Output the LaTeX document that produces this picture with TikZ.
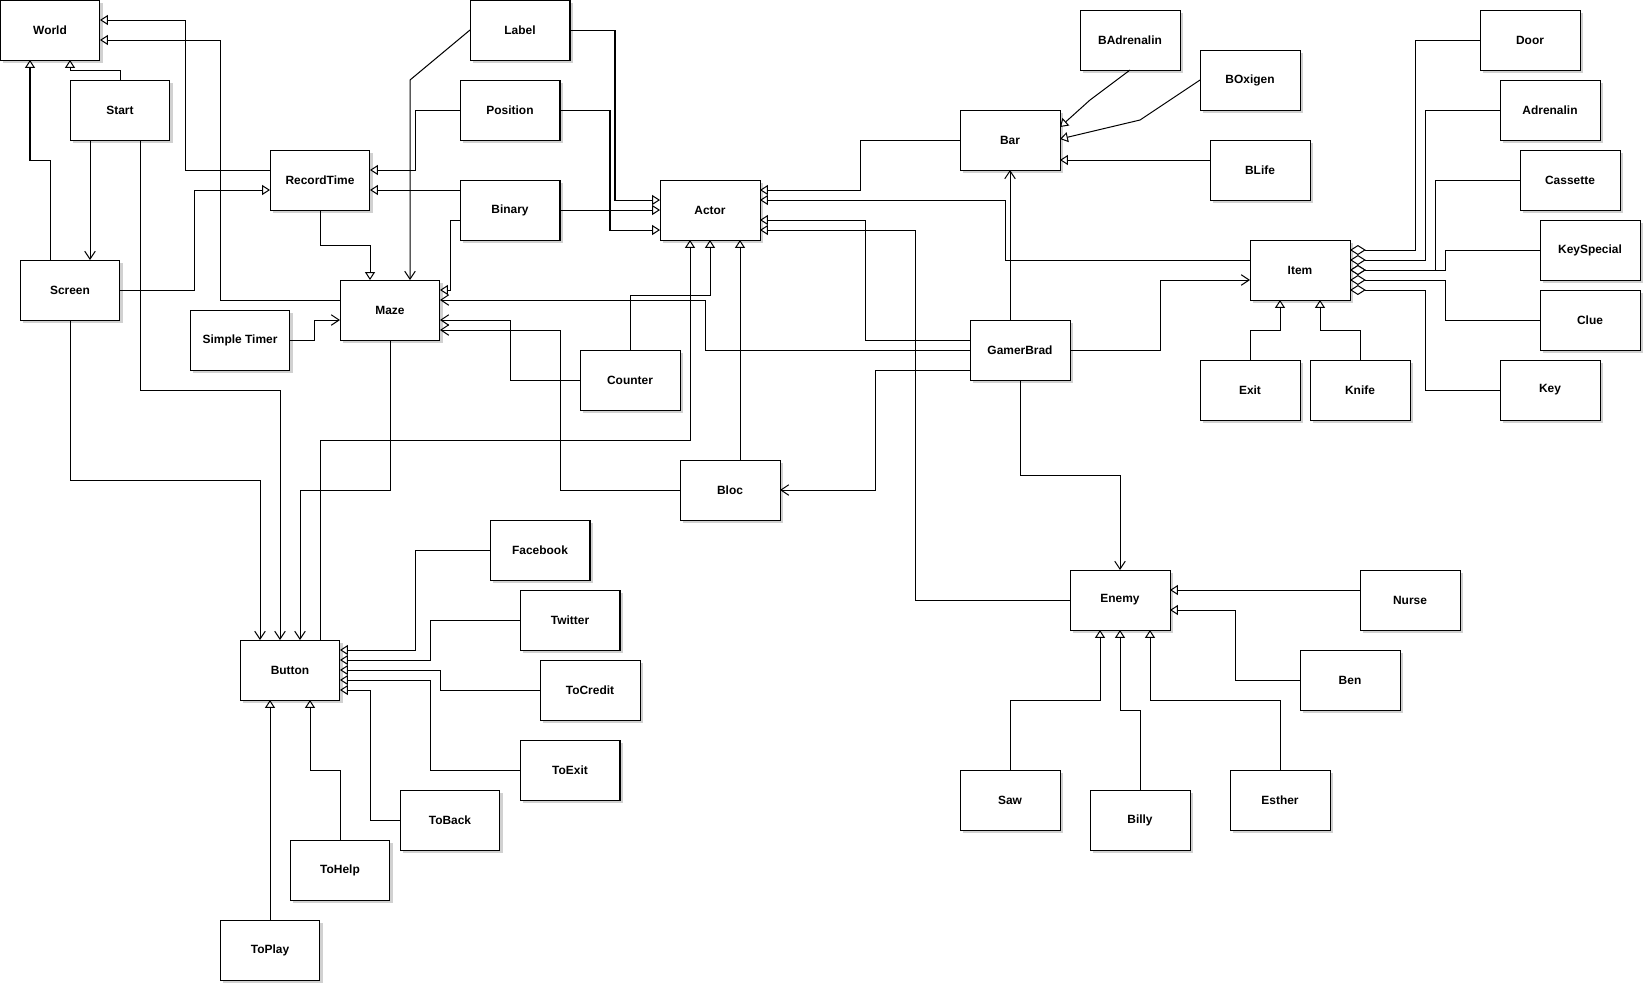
\documentclass[tikz,border=0pt]{standalone}
\usepackage{fontspec}
\setmainfont{Liberation Sans}
\usetikzlibrary{arrows.meta,calc,shadows}

\begin{document}
\begin{tikzpicture}[x=0.02cm,y=-0.02cm,line width=0.57pt,
  cls/.style={draw,fill=white,minimum width=2cm,minimum height=1.2cm,inner sep=0pt,outer sep=0pt,
    font=\bfseries\fontsize{6.8}{8}\selectfont,
    drop shadow={shadow xshift=1.7pt,shadow yshift=-1.7pt,opacity=1,fill=black!18}},
  gen/.style={-{Triangle[fill=white,length=4.5pt,width=5.7pt]}},
  assoc/.style={-{Straight Barb[length=4.5pt,width=6pt]}},
  aggr/.style={{Diamond[fill=white,length=9pt,width=5.7pt]}-}]
\useasboundingbox (0,0) rectangle (1645,985);
\foreach \n/\x/\y/\t in {world/50/30/World, start/120/110/Start, screen/70/290/Screen, rtime/320/180/RecordTime,
  maze/390/310/Maze, stimer/240/340/Simple Timer, label/520/30/Label, position/510/110/Position,
  binary/510/210/Binary, actor/710/210/Actor, counter/630/380/Counter, bloc/730/490/Bloc,
  button/290/670/Button, facebook/540/550/Facebook, twitter/570/620/Twitter, tocredit/590/690/ToCredit,
  toexit/570/770/ToExit, toback/450/820/ToBack, tohelp/340/870/ToHelp, toplay/270/950/ToPlay,
  bar/1010/140/Bar, badren/1130/40/BAdrenalin, boxigen/1250/80/BOxigen, blife/1260/170/BLife,
  gamer/1020/350/GamerBrad, item/1300/270/Item, door/1530/40/Door, adren/1550/110/Adrenalin,
  cassette/1570/180/Cassette, keysp/1590/250/KeySpecial, clue/1590/320/Clue, key/1550/390/Key,
  exit/1250/390/Exit, knife/1360/390/Knife, enemy/1120/600/Enemy, nurse/1410/600/Nurse,
  ben/1350/680/Ben, saw/1010/800/Saw, billy/1140/820/Billy, esther/1280/800/Esther}
  {\node[cls] (\n) at (\x,\y) {\t};}
\draw[gen] (start.north) -- ++(0,-10) -| ($(world.south)+(20,0)$);
\draw[gen] ($(screen.north)+(-20,0)$) -- ++(0,-100) -| ($(world.south)+(-20,0)$);
\draw[gen] ($(rtime.west)+(0,-10)$) -- ++(-85,0) |- ($(world.east)+(0,-10)$);
\draw[gen] ($(maze.west)+(0,-10)$) -- ++(-120,0) |- ($(world.east)+(0,10)$);
\draw[assoc] ($(start.south)+(-30,0)$) -- ($(screen.north)+(20,0)$);
\draw[assoc] ($(start.south)+(20,0)$) -- ++(0,250) -| ($(button.north)+(-10,0)$);
\draw[gen] (screen.east) -- ++(75,0) |- ($(rtime.west)+(0,10)$);
\draw[assoc] (screen.south) -- ++(0,160) -| ($(button.north)+(-30,0)$);
\draw[gen] (rtime.south) -- ++(0,35) -| ($(maze.north)+(-20,0)$);
\draw[assoc] (label.west) -- ++(-60,50) -- ($(maze.north)+(20,0)$);
\draw[gen] (position.west) -- ++(-45,0) |- ($(rtime.east)+(0,-10)$);
\draw[gen] ($(binary.west)+(0,-20)$) -- ($(rtime.east)+(0,10)$);
\draw[gen] ($(binary.west)+(0,10)$) -- ++(-10,0) |- ($(maze.east)+(0,-20)$);
\draw[gen] (label.east) -- ++(45,0) |- ($(actor.west)+(0,-10)$);
\draw[gen] (binary.east) -- (actor.west);
\draw[gen] (position.east) -- ++(50,0) |- ($(actor.west)+(0,20)$);
\draw[assoc] (stimer.east) -- ++(25,0) |- ($(maze.west)+(0,10)$);
\draw[assoc] (maze.south) -- ++(0,150) -| ($(button.north)+(10,0)$);
\draw[gen] ($(button.north)+(30,0)$) -- ++(0,-200) -| ($(actor.south)+(-20,0)$);
\draw[gen] (counter.north) -- ++(0,-55) -| (actor.south);
\draw[assoc] (counter.west) -- ++(-70,0) |- ($(maze.east)+(0,10)$);
\draw[assoc] (bloc.west) -- ++(-120,0) |- ($(maze.east)+(0,20)$);
\draw[gen] ($(bloc.north)+(10,0)$) -- ($(actor.south)+(30,0)$);
\draw[assoc] (gamer.west) -- ++(-265,0) |- ($(maze.east)+(0,-10)$);
\draw[gen] ($(gamer.west)+(0,-10)$) -- ++(-105,0) |- ($(actor.east)+(0,10)$);
\draw[assoc] ($(gamer.west)+(0,20)$) -- ++(-95,0) |- (bloc.east);
\draw[gen] (enemy.west) -- ++(-155,0) |- ($(actor.east)+(0,20)$);
\draw[gen] (bar.west) -- ++(-100,0) |- ($(actor.east)+(0,-20)$);
\draw[gen] ($(item.west)+(0,-10)$) -- ++(-245,0) |- ($(actor.east)+(0,-10)$);
\draw[assoc] ($(gamer.north)+(-10,0)$) -- (bar.south);
\draw[assoc] (gamer.east) -- ++(90,0) |- ($(item.west)+(0,10)$);
\draw[assoc] (gamer.south) -- ++(0,95) -| (enemy.north);
\draw[gen] (badren.south) -- ++(-40,30) -- ($(bar.east)+(0,-13)$);
\draw[gen] (boxigen.west) -- ++(-60,40) -- ($(bar.east)+(0,-1)$);
\draw[gen] ($(blife.west)+(0,-10)$) -- ($(bar.east)+(0,20)$);
\draw[aggr] ($(item.east)+(0,-20)$) -- ++(65,0) |- (door.west);
\draw[aggr] ($(item.east)+(0,-10)$) -- ++(75,0) |- (adren.west);
\draw[aggr] (item.east) -- ++(85,0) |- (cassette.west);
\draw[aggr] (item.east) -- ++(95,0) |- (keysp.west);
\draw[aggr] ($(item.east)+(0,10)$) -- ++(95,0) |- (clue.west);
\draw[aggr] ($(item.east)+(0,20)$) -- ++(75,0) |- (key.west);
\draw[gen] (exit.north) -- ++(0,-30) -| ($(item.south)+(-20,0)$);
\draw[gen] (knife.north) -- ++(0,-30) -| ($(item.south)+(20,0)$);
\draw[gen] ($(nurse.west)+(0,-10)$) -- ($(enemy.east)+(0,-10)$);
\draw[gen] (ben.west) -- ++(-65,0) |- ($(enemy.east)+(0,10)$);
\draw[gen] (saw.north) -- ++(0,-70) -| ($(enemy.south)+(-20,0)$);
\draw[gen] (billy.north) -- ++(0,-80) -| (enemy.south);
\draw[gen] (esther.north) -- ++(0,-70) -| ($(enemy.south)+(30,0)$);
\draw[gen] (facebook.west) -- ++(-75,0) |- ($(button.east)+(0,-20)$);
\draw[gen] (twitter.west) -- ++(-90,0) |- ($(button.east)+(0,-10)$);
\draw[gen] (tocredit.west) -- ++(-100,0) |- (button.east);
\draw[gen] (toexit.west) -- ++(-90,0) |- ($(button.east)+(0,10)$);
\draw[gen] (toback.west) -- ++(-30,0) |- ($(button.east)+(0,20)$);
\draw[gen] (tohelp.north) -- ++(0,-70) -| ($(button.south)+(20,0)$);
\draw[gen] (toplay.north) -- ($(button.south)+(-20,0)$);
\end{tikzpicture}
\end{document}
